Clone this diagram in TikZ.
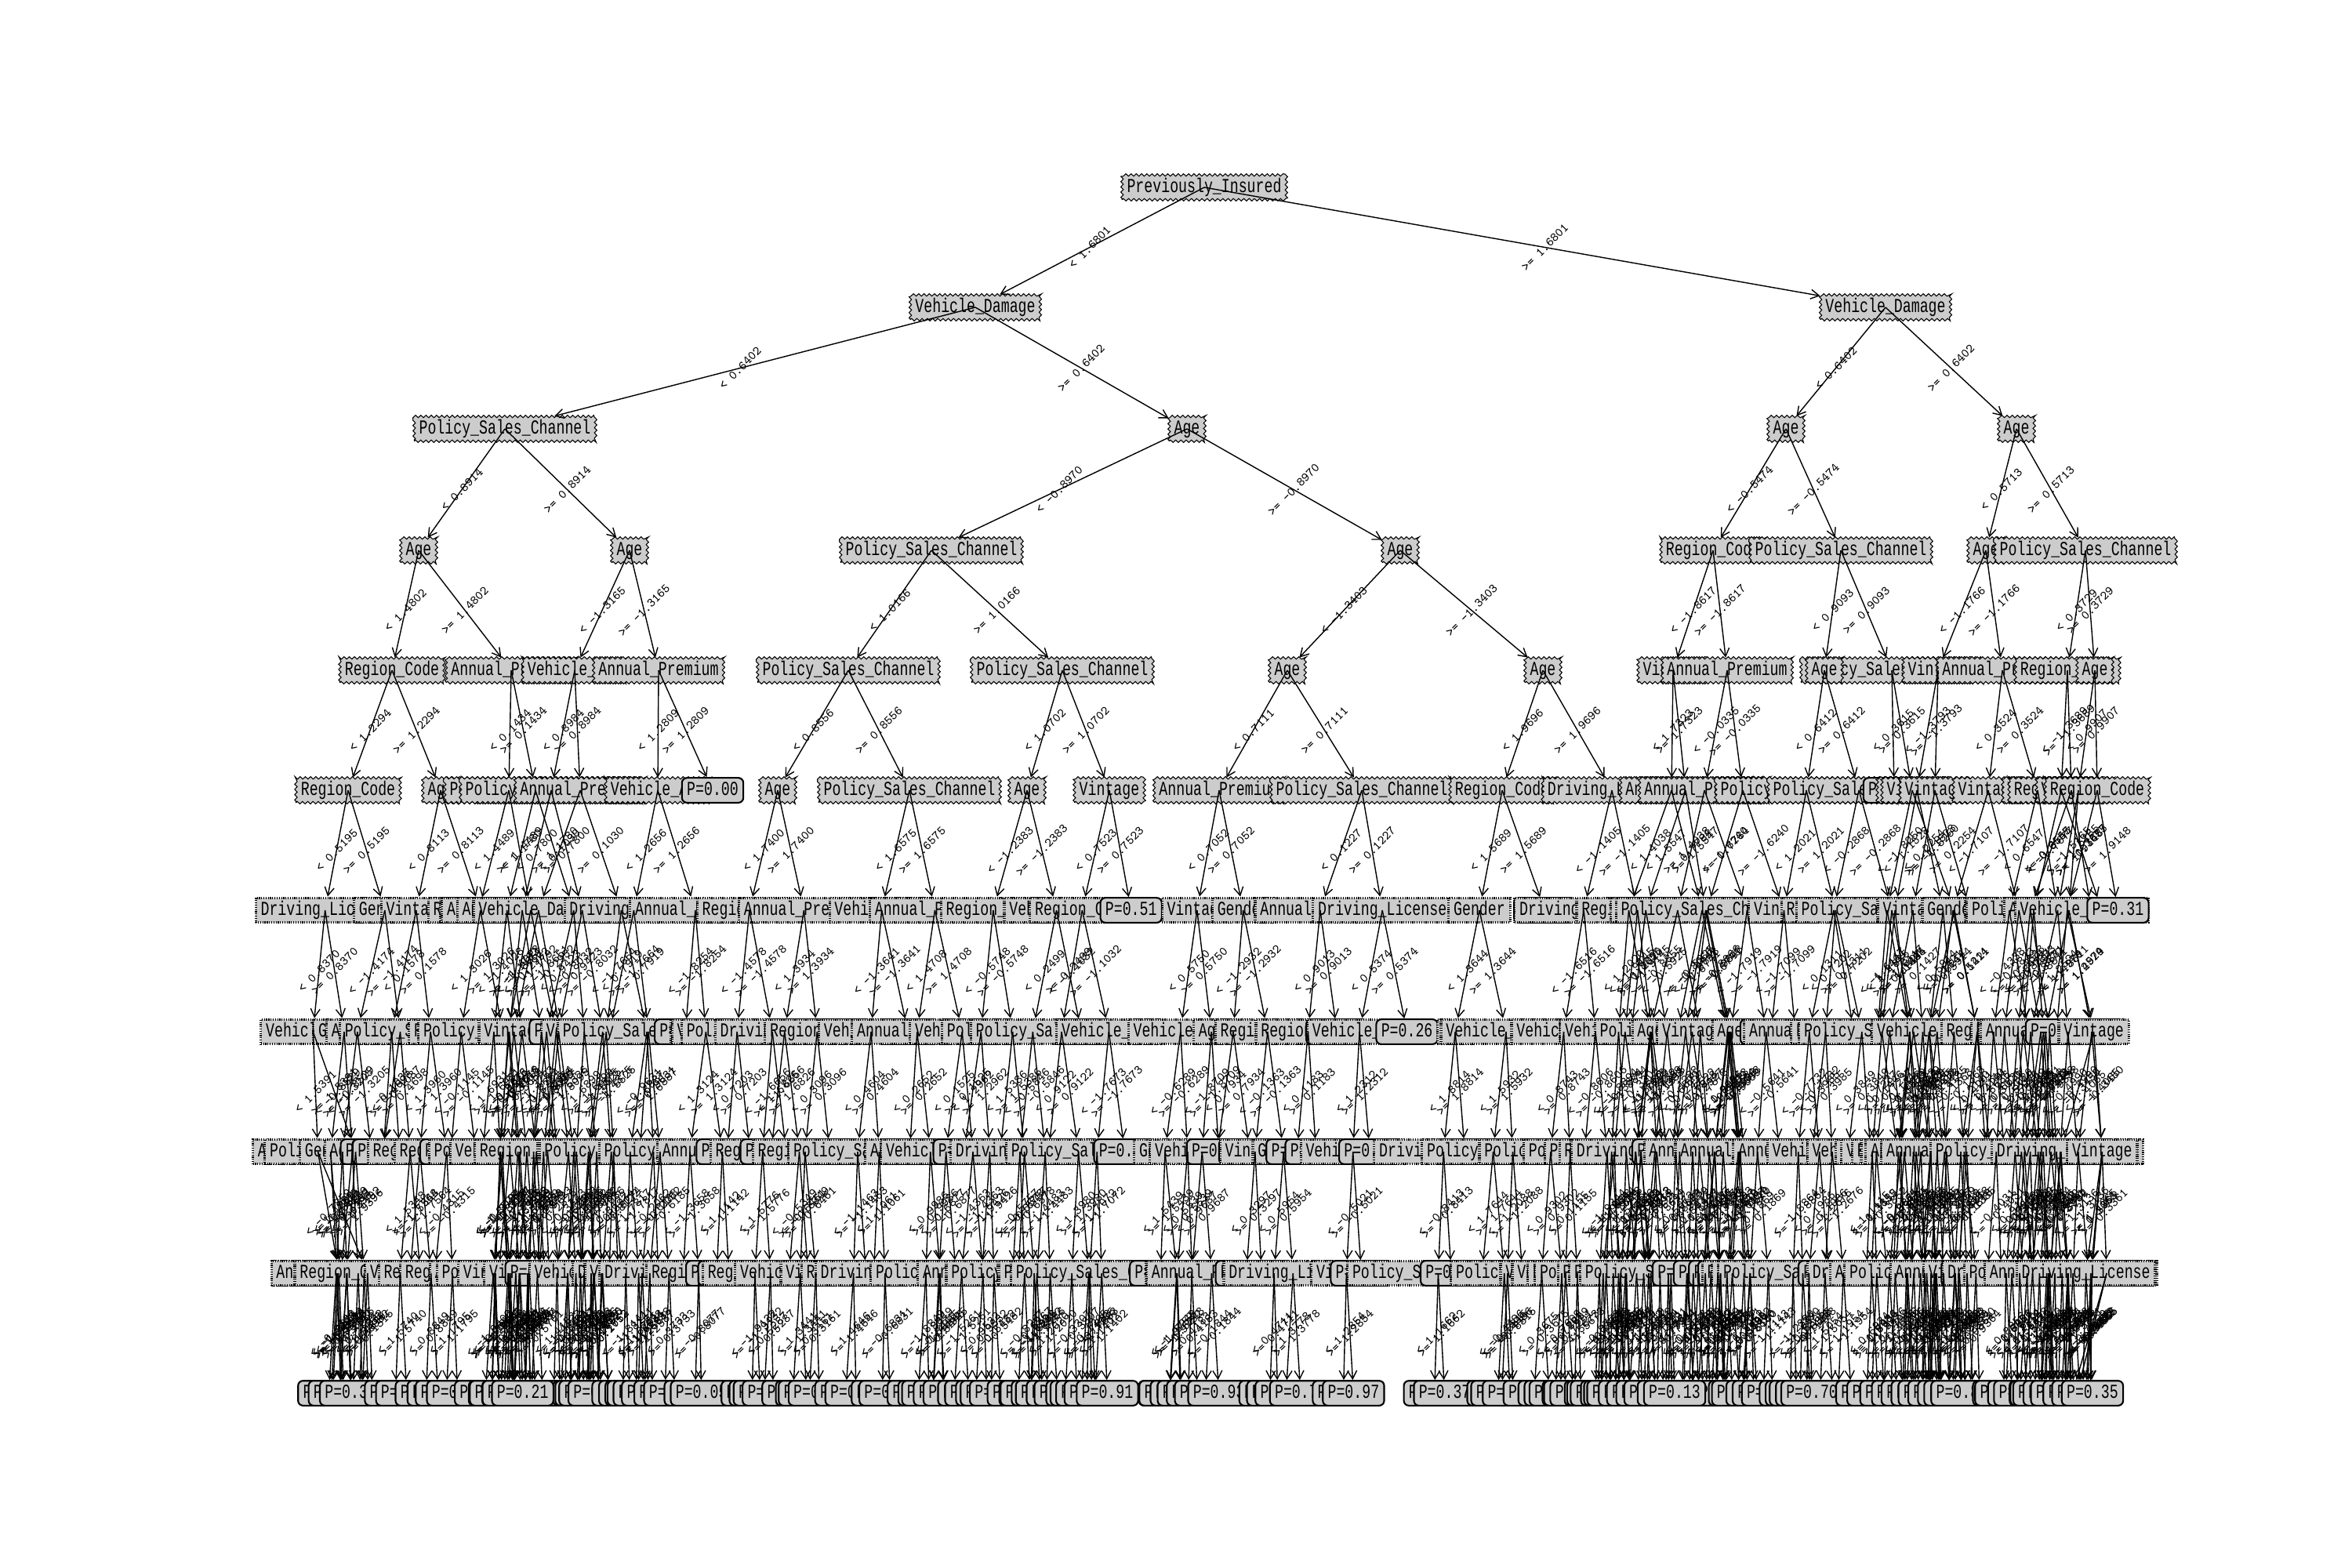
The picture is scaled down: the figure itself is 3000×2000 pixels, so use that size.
\documentclass[tikz,border=0pt]{standalone}
\usepackage{fontspec}
\newfontfamily\treefont[FakeStretch=0.72]{Liberation Mono}
\usetikzlibrary{decorations.pathmorphing,arrows.meta}
\newcount\ncur
\newcommand\featname[1]{\ifcase#1 Age\or Annual\_Premium\or Policy\_Sales\_Channel\or Region\_Code\or Vintage\or Vehicle\_Age\or Vehicle\_Damage\or Gender\or Driving\_License\or Age\or Annual\_Premium\or Vintage\or Region\_Code\or Policy\_Sales\_Channel\fi}
\newcommand\labn[1]{\ifcase#1 3\or 14\or 20\or 11\or 7\or 11\or 14\or 6\or 15\or 3\or 14\or 7\or 11\or 20\fi}
\newcommand\dminof[1]{\ifcase#1 0\or 0\or 0\or 0\or 0\or 0\or 25\or 12\or 8\or 5\or 3\fi}
\newcommand\dmaxof[1]{\ifcase#1 0\or 0\or 0\or 0\or 0\or 0\or 55\or 35\or 22\or 15\or 10\fi}
\newcommand\leafpof[1]{\ifcase#1 0\or 0\or 0\or 0\or 0\or 0\or 12\or 22\or 35\or 40\or 101\fi}
\newcommand\xhiof[1]{\ifcase#1 0\or 0\or 0\or 0\or 0\or 0\or 2755\or 2755\or 2740\or 2755\or 2710\fi}
\newcommand\xloof[1]{\ifcase#1 0\or 0\or 0\or 0\or 0\or 0\or 318\or 321\or 321\or 337\or 340\fi}
\newcommand\yrowof[1]{\ifcase#1 239\or 392\or 547\or 702\or 855\or 1008\or 1161\or 1316\or 1469\or 1624\or 1777\fi}
\tikzset{
  nbase/.style={fill=gray!40, font=\fontsize{7.2}{7.2}\selectfont\treefont,
    inner xsep=1.8pt, inner ysep=0pt, minimum height=9pt, text height=5pt, text depth=1.4pt},
  dnode/.style={nbase, draw, line width=0.3pt,
    decorate, decoration={zigzag, segment length=1.9pt, amplitude=0.45pt}},
  gnode/.style={nbase, draw, line width=0.9pt, dash pattern=on 0.35pt off 0.45pt},
  lnode/.style={nbase, draw, line width=0.6pt, rounded corners=1.8pt},
  tedge/.style={line width=0.4pt, -{Straight Barb[length=3pt,width=3.4pt]}},
  elab/.style={rotate=45, font=\fontsize{4.6}{4.6}\selectfont\ttfamily, inner sep=0pt}
}
\newcommand\tedgeto[3]{\draw[tedge] (#1.center) -- (#2);
  \path (#1.center) -- (#2.center) node[elab,midway]{#3};}
\newcommand\drawlevedges[1]{%
  \pgfmathtruncatemacro\km{#1-1}%
  \edef\Ncur{\csname N-#1\endcsname}%
  \foreach \j in {1,...,\Ncur}{%
    \edef\pidx{\csname P-#1-\j\endcsname}%
    \edef\sdv{\csname S-#1-\j\endcsname}%
    \edef\thr{\csname T-\km-\pidx\endcsname}%
    \draw[tedge] (L\km-\pidx.center) -- (L#1-\j);
    \path (L\km-\pidx.center) -- (L#1-\j.center) node[elab,midway]{\ifnum\sdv=0 <\else >=\fi\ \thr};
  }%
}
\begin{document}
\begin{tikzpicture}[x=0.01cm,y=-0.01cm]
\useasboundingbox (0,0) rectangle (3000,2000);
\fill[white] (0,0) rectangle (3000,2000);
\pgfmathsetseed{20231}
% level 0-1
\node[dnode] (L0-1) at (1536,239) {Previously\_Insured};
\node[dnode] (L1-1) at (1244,392) {Vehicle\_Damage};
\node[dnode] (L1-2) at (2405,392) {Vehicle\_Damage};
\tedgeto{L0-1}{L1-1}{< 1.6801}
\tedgeto{L0-1}{L1-2}{>= 1.6801}
% level 2
\node[dnode] (L2-1) at (644,547) {Policy\_Sales\_Channel};
\node[dnode] (L2-2) at (1514,547) {Age};
\node[dnode] (L2-3) at (2278,547) {Age};
\node[dnode] (L2-4) at (2572,547) {Age};
\tedgeto{L1-1}{L2-1}{< 0.6402}
\tedgeto{L1-1}{L2-2}{>= 0.6402}
\tedgeto{L1-2}{L2-3}{< 0.6402}
\tedgeto{L1-2}{L2-4}{>= 0.6402}
% level 3
\node[dnode] (L3-1) at (534,702) {Age};
\node[dnode] (L3-2) at (803,702) {Age};
\node[dnode] (L3-3) at (1188,702) {Policy\_Sales\_Channel};
\node[dnode] (L3-4) at (1786,702) {Age};
\node[dnode] (L3-5) at (2185,702) {Region\_Code};
\node[dnode] (L3-6) at (2348,702) {Policy\_Sales\_Channel};
\node[dnode] (L3-7) at (2533,702) {Age};
\node[dnode] (L3-8) at (2660,702) {Policy\_Sales\_Channel};
\tedgeto{L2-1}{L3-1}{< 0.8914}
\tedgeto{L2-1}{L3-2}{>= 0.8914}
\tedgeto{L2-2}{L3-3}{< -0.8970}
\tedgeto{L2-2}{L3-4}{>= -0.8970}
\tedgeto{L2-3}{L3-5}{< -0.5474}
\tedgeto{L2-3}{L3-6}{>= -0.5474}
\tedgeto{L2-4}{L3-7}{< 0.5713}
\tedgeto{L2-4}{L3-8}{>= 0.5713}
% level 4
\node[dnode] (L4-1) at (500,855) {Region\_Code};
\node[dnode] (L4-2) at (652,855) {Annual\_Premium};
\node[dnode] (L4-3) at (733,855) {Vehicle\_Age};
\node[dnode] (L4-4) at (840,855) {Annual\_Premium};
\node[dnode] (L4-5) at (1082,855) {Policy\_Sales\_Channel};
\node[dnode] (L4-6) at (1355,855) {Policy\_Sales\_Channel};
\node[dnode] (L4-7) at (1642,855) {Age};
\node[dnode] (L4-8) at (1968,855) {Age};
\node[dnode] (L4-9) at (2134,855) {Vintage};
\node[dnode] (L4-10) at (2203,855) {Annual\_Premium};
\node[dnode] (L4-12) at (2413,855) {Policy\_Sales\_Channel};
\node[dnode] (L4-11) at (2327,855) {Age};
\node[dnode] (L4-13) at (2472,855) {Vintage};
\node[dnode] (L4-14) at (2554,855) {Annual\_Premium};
\node[dnode] (L4-15) at (2637,855) {Region\_Code};
\node[dnode] (L4-16) at (2672,855) {Age};
\tedgeto{L3-1}{L4-1}{< 1.4802}
\tedgeto{L3-1}{L4-2}{>= 1.4802}
\tedgeto{L3-2}{L4-3}{< -1.3165}
\tedgeto{L3-2}{L4-4}{>= -1.3165}
\tedgeto{L3-3}{L4-5}{< 1.0166}
\tedgeto{L3-3}{L4-6}{>= 1.0166}
\tedgeto{L3-4}{L4-7}{< -1.3403}
\tedgeto{L3-4}{L4-8}{>= -1.3403}
\tedgeto{L3-5}{L4-9}{< -1.8617}
\tedgeto{L3-5}{L4-10}{>= -1.8617}
\tedgeto{L3-6}{L4-11}{< 0.9093}
\tedgeto{L3-6}{L4-12}{>= 0.9093}
\tedgeto{L3-7}{L4-13}{< -1.1766}
\tedgeto{L3-7}{L4-14}{>= -1.1766}
\tedgeto{L3-8}{L4-15}{< 0.3729}
\tedgeto{L3-8}{L4-16}{>= 0.3729}
\foreach \t [count=\i] in {1.2294,0.1434,0.8984,1.2809,0.8556,1.0702,0.7111,1.9696,1.7323,-0.0335,0.6412,0.3615,-1.3793,0.3524,-1.3689,0.9907}{%
  \expandafter\xdef\csname T-4-\i\endcsname{\t}}
% level 5 (explicit)
\foreach \x/\lab/\pp/\sd/\lf [count=\i] in {444/Region\_Code/1/0/0, 562/Age/1/1/0, 649/Vintage/2/0/0, 683/Policy\_Sales\_Channel/2/1/0, 703/Policy\_Sales\_Channel/3/0/0, 740/Annual\_Premium/3/1/0, 839/Vehicle\_Age/4/0/0, 909/P=0.00/4/1/1, 992/Age/5/0/0, 1160/Policy\_Sales\_Channel/5/1/0, 1310/Age/6/0/0, 1415/Vintage/6/1/0, 1555/Annual\_Premium/7/0/0, 1737/Policy\_Sales\_Channel/7/1/0, 1916/Region\_Code/8/0/0, 2056/Driving\_License/8/1/0, 2132/Vintage/9/0/0, 2150/Annual\_Premium/9/1/0, 2174/Annual\_Premium/10/0/0, 2223/Age/10/1/0, 2304/Policy\_Sales\_Channel/11/0/0, 2371/Policy\_Sales\_Channel/11/1/0, 2416/P=0.14/12/0/1, 2439/Vintage/12/1/0, 2445/Vintage/13/0/0, 2468/Vintage/13/1/0, 2536/Vintage/14/0/0, 2599/Vintage/14/1/0, 2629/Region\_Code/15/0/0, 2642/Vintage/15/1/0, 2651/Age/16/0/0, 2675/Region\_Code/16/1/0}{%
  \ifnum\lf=1 \node[lnode] (L5-\i) at (\x,1008) {\lab};
  \else \node[dnode] (L5-\i) at (\x,1008) {\lab};\fi
  \expandafter\xdef\csname X-5-\i\endcsname{\x}%
  \expandafter\xdef\csname F-5-\i\endcsname{\lf}%
  \expandafter\xdef\csname P-5-\i\endcsname{\pp}%
  \expandafter\xdef\csname S-5-\i\endcsname{\sd}%
}
\expandafter\xdef\csname N-5\endcsname{32}
\drawlevedges{5}
% levels 6-10 (generated)
\foreach \k in {6,...,10}{%
  \pgfmathtruncatemacro\km{\k-1}%
  \global\ncur=0
  \edef\Nprev{\csname N-\km\endcsname}%
  \edef\yy{\yrowof{\k}}%
  \edef\dmin{\dminof{\k}}%
  \edef\dmax{\dmaxof{\k}}%
  \edef\lp{\leafpof{\k}}%
  \edef\xhi{\xhiof{\k}}%
  \edef\xlo{\xloof{\k}}%
  \foreach \i in {1,...,\Nprev}{%
    \edef\isleaf{\csname F-\km-\i\endcsname}%
    \ifnum\isleaf=0
      \pgfmathrandominteger{\ta}{0}{1}%
      \pgfmathrandominteger{\tb}{0}{1}%
      \pgfmathrandominteger{\tc}{1000}{9999}%
      \expandafter\xdef\csname T-\km-\i\endcsname{\ifnum\ta=0 -\fi\tb.\tc}%
      \edef\parx{\csname X-\km-\i\endcsname}%
      \foreach \s in {0,1}{%
        \global\advance\ncur by 1
        \edef\nid{\the\ncur}%
        \pgfmathrandominteger{\rl}{1}{100}%
        \ifnum\rl<\lp\relax
          \def\isl{1}\def\nch{6}%
        \else
          \def\isl{0}%
          \pgfmathrandominteger{\lidx}{0}{13}%
          \edef\nch{\labn{\lidx}}%
        \fi
        \pgfmathsetmacro\hw{(\nch*11.06+12.8)/2}%
        \pgfmathsetmacro\dlt{\dmin+rnd*(\dmax-\dmin)}%
        \pgfmathsetmacro\cx{\parx+(2*\s-1)*\dlt}%
        \pgfmathsetmacro\cx{(\cx+\hw>\xhi) ? (\xhi-\hw-rnd*45) : ((\cx-\hw<\xlo) ? (\xlo+\hw+rnd*35) : \cx)}%
        \ifnum\isl=1
          \pgfmathrandominteger{\pv}{0}{99}%
          \node[lnode] (L\k-\nid) at (\cx,\yy) {P=0.\ifnum\pv<10 0\fi\pv};
          \expandafter\xdef\csname F-\k-\nid\endcsname{1}%
        \else
          \node[gnode] (L\k-\nid) at (\cx,\yy) {\featname{\lidx}};
          \expandafter\xdef\csname F-\k-\nid\endcsname{0}%
        \fi
        \expandafter\xdef\csname X-\k-\nid\endcsname{\cx}%
        \expandafter\xdef\csname P-\k-\nid\endcsname{\i}%
        \expandafter\xdef\csname S-\k-\nid\endcsname{\s}%
      }%
    \fi
  }%
  \expandafter\xdef\csname N-\k\endcsname{\the\ncur}%
  \drawlevedges{\k}%
}
\end{tikzpicture}
\end{document}
